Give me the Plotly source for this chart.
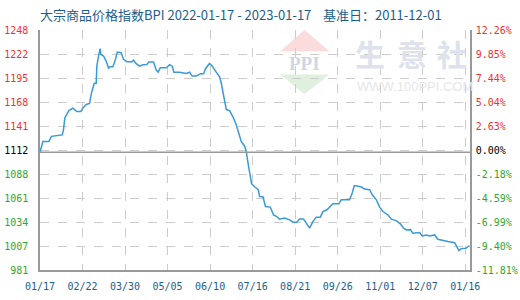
import plotly.graph_objects as go

# ---- data ----
days = [0, 2.4, 7.5, 9.7, 18.8, 19.9, 21, 24.4, 27.8, 31.2, 34.6, 35.7, 39.1, 41.9, 43.6, 45.9,
        47.6, 48.1, 49.8, 51, 51.5, 53.8, 56, 58, 59.4, 61.7, 63.9, 65.4, 68.7, 70.7, 73.5, 78,
        79.2, 81.4, 84.3, 87, 90.4, 92.1, 96.1, 98.4, 100, 101.8, 106.9, 109.7, 111.9, 113.3,
        118, 123.8, 126.6, 128.9, 132.3, 135.9, 138.5, 140.1, 143.5, 145.8, 149.2, 152, 153.4,
        154.8, 156.5, 157.7, 160.5, 163.3, 166.1, 168.4, 170.4, 173.2, 174.6, 176.3, 178, 179.1,
        181.9, 184.8, 185.9, 188.7, 190.9, 194.9, 197.7, 200.5, 202.8, 207, 211.3, 214.1, 217.4,
        219.7, 223.1, 225.4, 228.2, 231, 233.9, 237.3, 239.5, 242.9, 245.7, 247.9, 253, 255, 262,
        264.3, 266, 267.7, 272, 274.8, 279, 281.3, 284.7, 287.5, 290.3, 294.5, 297.4, 301.6, 305,
        307.8, 310.1, 313.5, 315.7, 318.5, 321.3, 323.6, 327, 330, 334, 336.8, 341, 345.3, 351,
        352.9, 354.6, 356.7, 360.3, 362.3, 363.7]
bpi = [1112, 1124, 1124, 1129.7, 1131.3, 1137.2, 1150.2, 1158.4, 1161, 1157.3, 1157.3, 1160.3,
       1165.1, 1166.2, 1178.1, 1188.5, 1189, 1207.8, 1220.9, 1227.2, 1220.9, 1219, 1213.4, 1205.6,
       1207.2, 1207.2, 1215.3, 1223.5, 1222.8, 1215.3, 1212.7, 1212.7, 1214.5, 1210.5, 1207.8,
       1209.4, 1209.6, 1212.3, 1212.3, 1203.4, 1201.1, 1206, 1206, 1209.4, 1207.8, 1201.1, 1201.1,
       1199.7, 1201, 1196.7, 1196.7, 1199.3, 1199.3, 1204.9, 1210.8, 1207.8, 1201.1, 1196, 1189.3,
       1179.9, 1170.7, 1159.5, 1158.4, 1151.4, 1142.6, 1133.5, 1123.8, 1119, 1113, 1098.2, 1083.3,
       1077, 1073.3, 1070.3, 1062.8, 1062.5, 1051.6, 1051, 1042.3, 1040.5, 1037.6, 1038.7, 1036.8,
       1034.2, 1034.2, 1037.6, 1037.6, 1033.1, 1027.5, 1034.9, 1039.8, 1039.8, 1046, 1048, 1052.4,
       1054.6, 1054.6, 1059.1, 1059.1, 1066.6, 1074.7, 1074.7, 1073.3, 1071, 1070.3, 1064.7,
       1059.1, 1051, 1046, 1042.3, 1037.6, 1036, 1032.3, 1027.5, 1025.6, 1025.9, 1021.9, 1021.9,
       1022.6, 1018.9, 1020, 1018.9, 1020, 1015.2, 1013.7, 1012.6, 1011.4, 1007, 1002.5, 1004.8,
       1005.2, 1007, 1007.8]

x_tick_days = [0, 36, 72, 108, 144, 180, 216, 252, 288, 324, 360]
x_tick_labels = ["01/17", "02/22", "03/30", "05/05", "06/10", "07/16", "08/21", "09/26",
                 "11/01", "12/07", "01/16"]

y_min, y_max = 981, 1248
base_value = 1112
left_labels = ["981", "1007", "1034", "1061", "1088", "1112", "1141", "1168", "1195", "1222", "1248"]
right_labels = ["-11.81%", "-9.40%", "-6.99%", "-4.59%", "-2.18%", "0.00%", "2.63%", "5.04%",
                "7.44%", "9.85%", "12.26%"]

title_text = "大宗商品价格指数BPI 2022-01-17 - 2023-01-17&nbsp;&nbsp;&nbsp;&nbsp;基准日：2011-12-01"

# ---- style ----
RED, GREEN, BLACK = "#f23030", "#2ea82e", "#000000"
BLUE_TXT = "#1b5e8e"
LINE = "#3a9ad9"
GRID = "#cccccc"
AX = "#999999"
TICKFONT = dict(family="DejaVu Sans Mono", size=10)

n = len(left_labels)
step = (y_max - y_min) / (n - 1)
y_tickvals = [y_min + step * k for k in range(n)]


def colorize(labels):
    out = []
    mid = (n - 1) // 2
    for k, t in enumerate(labels):
        c = GREEN if k < mid else (BLACK if k == mid else RED)
        out.append(f'<span style="color:{c}">{t}</span>')
    return out


fig = go.Figure()
fig.add_trace(go.Scatter(x=days, y=bpi, mode="lines", line=dict(color=LINE, width=1.5),
                         hoverinfo="skip", showlegend=False))
fig.add_trace(go.Scatter(x=days, y=bpi, mode="lines", yaxis="y2", opacity=0,
                         hoverinfo="skip", showlegend=False))

fig.update_layout(
    width=520, height=300,
    margin=dict(l=40, r=50, t=30, b=30),
    paper_bgcolor="white", plot_bgcolor="white",
    xaxis=dict(range=[0, 364], tickvals=x_tick_days, ticktext=x_tick_labels,
               showgrid=True, gridcolor=GRID, griddash="dash", gridwidth=1,
               showline=True, linecolor=AX, linewidth=1.5, zeroline=False, automargin=False,
               ticks="", tickfont=dict(TICKFONT, color=BLUE_TXT), ticklabelstandoff=6),
    yaxis=dict(range=[y_min, y_max], tickvals=y_tickvals, ticktext=colorize(left_labels),
               showgrid=True, gridcolor=GRID, griddash="dash", gridwidth=1,
               showline=True, linecolor=AX, linewidth=1.5, zeroline=False, automargin=False,
               ticks="", tickfont=TICKFONT, ticklabelstandoff=8),
    yaxis2=dict(range=[y_min, y_max], tickvals=y_tickvals, ticktext=colorize(right_labels),
                overlaying="y", side="right", showgrid=False, automargin=False,
                showline=True, linecolor=AX, linewidth=1.5, zeroline=False,
                ticks="", tickfont=TICKFONT, ticklabelstandoff=2),
)

# base line
fig.add_shape(type="line", xref="paper", x0=0, x1=1, yref="y", y0=base_value, y1=base_value,
              line=dict(color=AX, width=1.5))

# watermark logo
fig.add_shape(type="path", xref="paper", yref="paper", layer="below",
              path="M 0.559 0.911 L 0.615 1.0 L 0.673 0.911 Z",
              fillcolor="#fadcdc", line=dict(width=0))
fig.add_shape(type="path", xref="paper", yref="paper", layer="below",
              path="M 0.559 0.815 L 0.615 0.732 L 0.673 0.815 Z",
              fillcolor="#dff0df", line=dict(width=0))
fig.add_annotation(xref="paper", yref="paper", x=0.615, y=0.862, text="<b>PPI</b>",
                   xanchor="center", yanchor="middle",
                   showarrow=False, font=dict(family="Liberation Serif", size=19, color="#cdd7e6"))
for ch, xp in zip(["生", "意", "社"], [0.768, 0.866, 0.959]):
    fig.add_annotation(xref="paper", yref="paper", x=xp, y=0.905, text=f"<b>{ch}</b>",
                       xanchor="center", yanchor="middle", showarrow=False,
                       font=dict(family="Noto Sans CJK SC", size=30, color="#dde2ec"))
fig.add_annotation(xref="paper", yref="paper", x=0.873, y=0.766, text="WWW.100PPI.COM",
                   xanchor="center", yanchor="middle", showarrow=False,
                   font=dict(family="Liberation Sans", size=13, color="#e6e6e6"))

# title
fig.add_annotation(xref="paper", yref="paper", x=0, y=1.066, xanchor="left", yanchor="middle",
                   text=title_text, showarrow=False, xshift=-2,
                   font=dict(family="Noto Sans CJK SC", size=13, color=BLUE_TXT))

fig.write_html("out.html")
